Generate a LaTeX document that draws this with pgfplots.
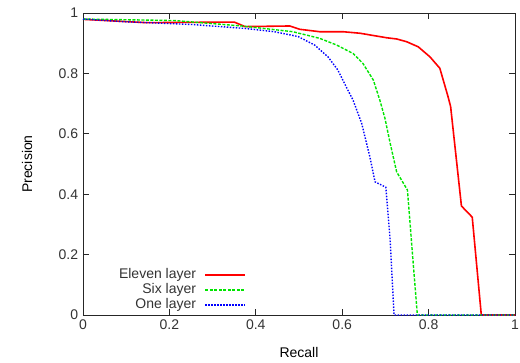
\documentclass[border=0pt]{standalone}
\usepackage{fontspec}
\setmainfont{Liberation Sans}
\usepackage{pgfplots}
\pgfplotsset{compat=1.18}
\begin{document}
\fontsize{14}{16}\selectfont
\begin{tikzpicture}
\begin{axis}[
  name=ax,
  scale only axis, width=432pt, height=302pt,
  xmin=0, xmax=1, ymin=0, ymax=1,
  xtick={0,0.2,0.4,0.6,0.8,1}, ytick={0,0.2,0.4,0.6,0.8,1},
  tick align=inside, major tick length=6pt,
  /pgf/number format/assume math mode=true,
  tick label style={font=\fontsize{14}{16}\selectfont, color=black!80},
  label style={font=\fontsize{14}{16}\selectfont, color=black!80},
  xlabel={Recall}, ylabel={Precision},
  every axis x label/.style={at={(axis description cs:0.5,-0.1225)},anchor=center},
  every axis y label/.style={at={(axis description cs:-0.1296,0.5)},rotate=90,anchor=center},
  axis line style={line width=0.9pt, black!85},
  every tick/.style={line width=0.7pt, black!85},
  legend plot pos=right,
  legend cell align=right,
  legend image code/.code={\draw[#1] (0pt,0pt) -- (40pt,0pt);},
  legend style={at={(axis description cs:0.230,0.083)}, anchor=center, draw=none, fill=none,
    font=\fontsize{14}{16}\selectfont, text=black!80, inner sep=0pt, row sep=1pt,
    nodes={inner sep=0.5pt, text height=10pt, text depth=3pt},
    /tikz/every odd column/.append style={column sep=8pt}},
]
\addplot[red, line width=1.6pt] coordinates {
(0,0.979) (0.147,0.968) (0.35,0.97) (0.375,0.955) (0.479,0.957) (0.502,0.946)
(0.548,0.938) (0.602,0.938) (0.641,0.933) (0.703,0.918) (0.726,0.914) (0.749,0.905)
(0.776,0.888) (0.803,0.855) (0.826,0.817) (0.845,0.723) (0.851,0.69) (0.876,0.361)
(0.901,0.324) (0.922,0) (1,0)};
\addlegendentry{Eleven layer}
\addplot[green!90!black, line width=1.4pt, dash pattern=on 3pt off 1.5pt] coordinates {
(0,0.98) (0.212,0.975) (0.368,0.957) (0.486,0.938) (0.548,0.916) (0.587,0.894)
(0.625,0.866) (0.648,0.833) (0.672,0.778) (0.687,0.712) (0.699,0.651) (0.711,0.569)
(0.726,0.474) (0.751,0.414) (0.765,0.16) (0.774,0) (1,0)};
\addlegendentry{Six layer}
\addplot[blue, line width=1.4pt, dash pattern=on 1.5pt off 1.5pt] coordinates {
(0,0.98) (0.097,0.971) (0.251,0.962) (0.374,0.949) (0.443,0.938) (0.498,0.922)
(0.536,0.894) (0.567,0.855) (0.59,0.811) (0.613,0.745) (0.625,0.712) (0.645,0.635)
(0.664,0.524) (0.676,0.441) (0.701,0.423) (0.711,0.248) (0.72,0) (1,0)};
\addlegendentry{One layer}
\end{axis}
\pgfresetboundingbox
\useasboundingbox ([shift={(-83pt,-47pt)}]ax.south west) rectangle ([shift={(5pt,13pt)}]ax.north east);
\end{tikzpicture}
\end{document}
